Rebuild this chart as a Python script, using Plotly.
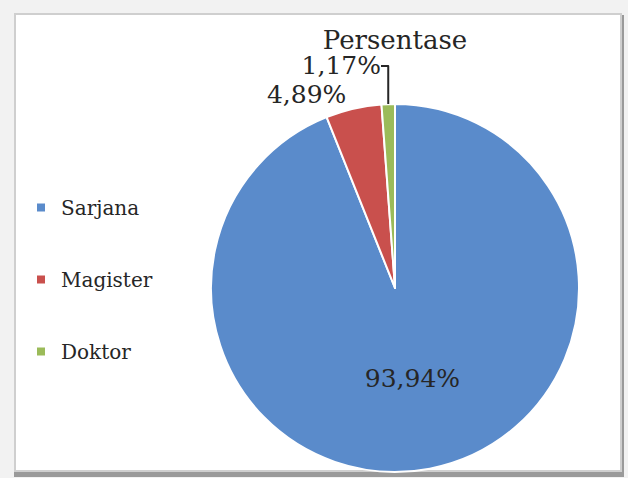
import plotly.graph_objects as go

categories = ["Sarjana", "Magister", "Doktor"]
values = [93.94, 4.89, 1.17]
colors = ["#5A8BCB", "#C9504D", "#9BBB59"]
title_text = "Persentase"

W, H = 628, 478
def px(x): return x / W
def py(y): return 1 - y / H

FONT = "DejaVu Serif"
TXT = "#262626"

fig = go.Figure()
fig.add_trace(go.Pie(
    labels=categories,
    values=values,
    sort=False,
    direction="clockwise",
    rotation=0,
    marker=dict(colors=colors, line=dict(color="white", width=2)),
    texttemplate="%{value:.2f}%",
    textposition=["inside", "outside", "outside"],
    textfont=dict(family=FONT, size=25, color=TXT),
    insidetextorientation="horizontal",
    domain=dict(x=[px(211), px(579)], y=[py(472), py(104)]),
    showlegend=False,
    hoverinfo="label+percent",
))

# legend entries (one per category)
for c, col in zip(categories, colors):
    fig.add_trace(go.Scatter(
        x=[None], y=[None], mode="markers", name=c, legendgroup=c,
        marker=dict(symbol="square", size=8, color=col),
        hoverinfo="skip",
    ))

fig.update_layout(
    width=W, height=H,
    margin=dict(l=0, r=0, t=0, b=0),
    paper_bgcolor="#f2f2f2",
    plot_bgcolor="rgba(0,0,0,0)",
    separators=",.",
    xaxis=dict(visible=False, range=[0, 1]),
    yaxis=dict(visible=False, range=[0, 1]),
    title=dict(text=title_text, x=px(395), xanchor="center", y=py(40), yanchor="middle",
               font=dict(family=FONT, size=26, color=TXT)),
    legend=dict(x=px(21), xanchor="left", y=py(188), yanchor="top",
                font=dict(family=FONT, size=20, color=TXT),
                bgcolor="rgba(0,0,0,0)", itemwidth=30, tracegroupgap=43),
    shapes=[
        dict(type="rect", xref="paper", yref="paper", x0=px(14), x1=px(624), y0=py(477), y1=py(15),
             fillcolor="#9a9a9a", line=dict(width=0), layer="below"),
        dict(type="rect", xref="paper", yref="paper", x0=px(15), x1=px(621), y0=py(471), y1=py(14),
             fillcolor="white", line=dict(color="#cfcfcf", width=2), layer="below"),
    ],
)

fig.write_html("out.html", config={"displayModeBar": False},
               post_script="document.body.style.margin='0';")
